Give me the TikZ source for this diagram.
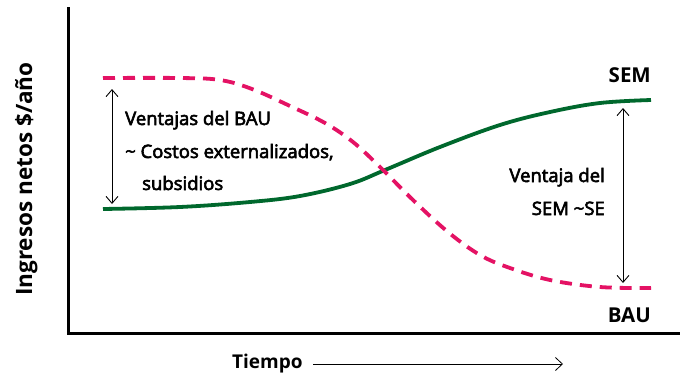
\documentclass[tikz,border=0pt]{standalone}
\usepackage{fontspec}
\setmainfont{Open Sans}
\newcommand\heavytext[1]{\special{pdf:literal direct 2 Tr 0.6 w}#1\special{pdf:literal direct 0 Tr}}
\usetikzlibrary{arrows.meta}
\definecolor{semgreen}{RGB}{0,104,45}
\definecolor{baured}{RGB}{228,18,100}
\tikzset{
  axisline/.style={line width=3pt, line cap=rect},
  semcurve/.style={semgreen, line width=3.8pt},
  baucurve/.style={baured, line width=3.8pt, dash pattern=on 12pt off 8pt},
  gap/.style={line width=0.9pt, {Straight Barb[length=7pt,width=12pt]}-{Straight Barb[length=7pt,width=12pt]}},
  lbl/.style={font=\fontsize{18.5}{22}\selectfont, inner sep=0pt},
  blbl/.style={font=\fontsize{20.5}{24}\selectfont\bfseries, inner sep=0pt}
}
\begin{document}
\begin{tikzpicture}[x=1pt,y=-1pt]
\useasboundingbox (0,0) rectangle (680,373);
% axes
\coordinate (otop) at (68,8);
\coordinate (orig) at (68,333);
\coordinate (xend) at (680,333);
\draw[axisline] (otop) -- (orig) -- (xend);
% curves
\draw[semcurve] plot[smooth, tension=0.6] coordinates {(103,209) (180,207) (250,202) (300,196) (350,184) (385,170) (440,147) (500,125) (550,112) (600,103) (651,100)};
\draw[baucurve] plot[smooth, tension=0.6] coordinates {(103,78) (180,78) (220,80) (252,89) (290,106) (325,123) (353,142) (380,167) (413,200) (448,232) (480,255) (510,268) (550,280) (600,287) (651,288)};
% double arrows
\coordinate (la) at (112,89);
\coordinate (lb) at (112,204);
\draw[gap] (la) -- (lb);
\coordinate (ra) at (623,108);
\coordinate (rb) at (623,283);
\draw[gap] (ra) -- (rb);
% left labels
\node[lbl, anchor=base west] (t1) at (125,125) {\heavytext{Ventajas del BAU}};
\node[lbl, anchor=base west] (t2) at (125,158) {\heavytext{\char"007E{} Costos externalizados,}};
\node[lbl, anchor=base west] (t3) at (142,190) {\heavytext{subsidios}};
% right labels
\node[lbl, anchor=base east] (r1) at (605,182) {\heavytext{Ventaja del}};
\node[lbl, anchor=base east] (r2) at (605,215) {\heavytext{SEM \char"007E SE}};
\node[blbl, anchor=base east] (sem) at (651,82) {SEM};
\node[blbl, anchor=base east] (bau) at (651,322) {BAU};
% x label
\node[blbl, font=\fontsize{19}{22}\selectfont\bfseries, anchor=base west] (tiempo) at (232,368) {Tiempo};
\coordinate (ta) at (313,364);
\coordinate (tb) at (563,364);
\draw[line width=0.8pt, -{Straight Barb[length=7pt,width=13pt]}] (ta) -- (tb);
% y label
\node[blbl, font=\fontsize{22.5}{26}\selectfont\bfseries, rotate=90, anchor=base] (ylab) at (32,179) {Ingresos netos \$/año};
\end{tikzpicture}
\end{document}
